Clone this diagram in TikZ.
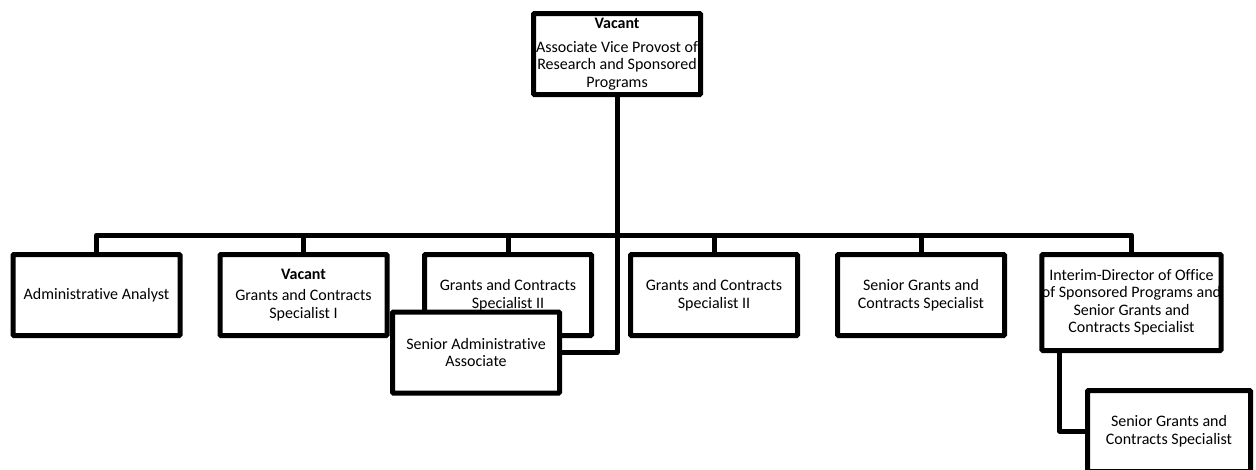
\documentclass[tikz,border=0pt]{standalone}
\usepackage{fontspec}
\setmainfont{Carlito}[Ligatures=NoCommon]

\begin{document}
\begin{tikzpicture}[x=1pt, y=-1pt,
    post/.style={draw, line width=5pt, fill=white, rounded corners=1pt, align=center,
      minimum width=167pt, minimum height=81pt, inner sep=0pt,
      font=\fontsize{16}{17.5}\selectfont},
    conn/.style={line width=5pt, line join=round}]
    \useasboundingbox (0,0) rectangle (1256,469);
    \node [post] (avp) at (617,54) {\textbf{Vacant}\\[6pt]Associate Vice Provost of\\Research and Sponsored\\Programs};
    \coordinate (bus) at (617,235);
    \node [post] (analyst) at (96.5,295) {Administrative Analyst};
    \node [post] (gcsone) at (303.5,295) {\textbf{Vacant}\\[4pt]Grants and Contracts\\Specialist I};
    \node [post] (gcstwoa) at (508,295) {Grants and Contracts\\Specialist II};
    \node [post] (gcstwob) at (714,295) {Grants and Contracts\\Specialist II};
    \node [post] (sgcs) at (921,295) {Senior Grants and\\Contracts Specialist};
    \node [post, minimum width=178pt, minimum height=96pt] (interim) at (1131.5,302.5)
      {Interim-Director of Office\\of Sponsored Programs and\\Senior Grants and\\Contracts Specialist};
    \node [post, minimum width=163pt] (sgcssub) at (1169,431) {Senior Grants and\\Contracts Specialist};
    % connectors
    \draw [conn] (avp) -- (bus);
    \draw [conn] (analyst.north) |- (bus);
    \draw [conn] (gcsone.north) |- (bus);
    \draw [conn] (gcstwoa.north) |- (bus);
    \draw [conn] (gcstwob.north) |- (bus);
    \draw [conn] (sgcs.north) |- (bus);
    \draw [conn] (interim.north) |- (bus);
    \draw [conn] ([xshift=20pt]interim.south west) |- (sgcssub.west);
    \node [post] (saa) at (476,352.5) {Senior Administrative\\Associate};
    \draw [conn] (bus) |- (saa.east);
\end{tikzpicture}
\end{document}
